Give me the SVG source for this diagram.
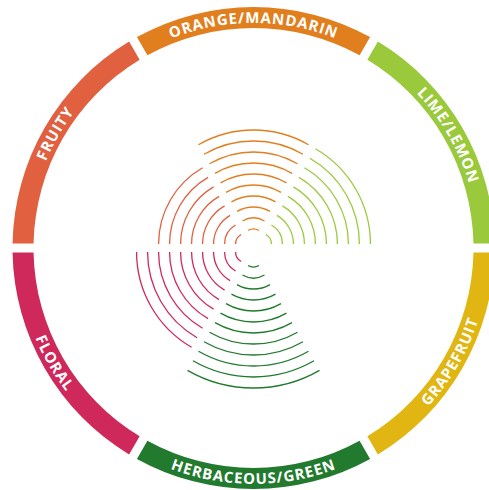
<svg xmlns="http://www.w3.org/2000/svg" xmlns:xlink="http://www.w3.org/1999/xlink" width="489" height="490" viewBox="0 0 489 490">
<style>
.lbl{font-family:"Open Sans","Liberation Sans",sans-serif;font-weight:700;font-size:15px;letter-spacing:0.9px;fill:#fff;text-anchor:middle}
.arcs{fill:none;stroke-width:1.3}
</style>
<defs>
<path id="seg" d="M494.458,252.5 A241,241 0 0 1 377.88,454.43 L367.37,436.24 A220,220 0 0 0 473.454,252.5 Z"/>
<path id="top" d="M28.5,248 A225,225 0 0 1 478.5,248"/>
<path id="bot" d="M17.5,248 A236,236 0 0 0 489.5,248"/>
<path id="arcs8" d="M11,0A11,11 0 0 1 5.5,9.526M22,0A22,22 0 0 1 11,19.053M33,0A33,33 0 0 1 16.5,28.579M44,0A44,44 0 0 1 22,38.105M55,0A55,55 0 0 1 27.5,47.631M66,0A66,66 0 0 1 33,57.158M77,0A77,77 0 0 1 38.5,66.684M88,0A88,88 0 0 1 44,76.21"/>
<path id="arcs10" d="M11,0A11,11 0 0 1 5.5,9.526M22,0A22,22 0 0 1 11,19.053M33,0A33,33 0 0 1 16.5,28.579M44,0A44,44 0 0 1 22,38.105M55,0A55,55 0 0 1 27.5,47.631M66,0A66,66 0 0 1 33,57.158M77,0A77,77 0 0 1 38.5,66.684M88,0A88,88 0 0 1 44,76.21M99,0A99,99 0 0 1 49.5,85.737M110,0A110,110 0 0 1 55,95.263"/>
<path id="arcs12" d="M11,0A11,11 0 0 1 5.5,9.526M22,0A22,22 0 0 1 11,19.053M33,0A33,33 0 0 1 16.5,28.579M44,0A44,44 0 0 1 22,38.105M55,0A55,55 0 0 1 27.5,47.631M66,0A66,66 0 0 1 33,57.158M77,0A77,77 0 0 1 38.5,66.684M88,0A88,88 0 0 1 44,76.21M99,0A99,99 0 0 1 49.5,85.737M110,0A110,110 0 0 1 55,95.263M121,0A121,121 0 0 1 60.5,104.789M132,0A132,132 0 0 1 66,114.315"/>
</defs>
<rect width="489" height="490" fill="#fff"/>

<g id="grapefruit">
<use href="#seg" fill="#E1B612"/>
<text class="lbl"><textPath href="#bot" startOffset="83.333%">GRAPEFRUIT</textPath></text>
</g>

<g id="herbaceous-green">
<use href="#seg" fill="#217A2E" transform="rotate(60 253.5 248)"/>
<use href="#arcs12" class="arcs" stroke="#217A2E" transform="translate(253.5 256) rotate(60)"/>
<text class="lbl"><textPath href="#bot" startOffset="50%">HERBACEOUS/GREEN</textPath></text>
</g>

<g id="floral">
<use href="#seg" fill="#CF285A" transform="rotate(120 253.5 248)"/>
<use href="#arcs10" class="arcs" stroke="#CF285A" transform="translate(246.572 252) rotate(120)"/>
<text class="lbl"><textPath href="#bot" startOffset="16.667%">FLORAL</textPath></text>
</g>

<g id="fruity">
<use href="#seg" fill="#E0603F" transform="rotate(180 253.5 248)"/>
<use href="#arcs8" class="arcs" stroke="#E0603F" transform="translate(246.572 244) rotate(180)"/>
<text class="lbl"><textPath href="#top" startOffset="16.667%">FRUITY</textPath></text>
</g>

<g id="orange-mandarin">
<use href="#seg" fill="#E17F1E" transform="rotate(240 253.5 248)"/>
<use href="#arcs10" class="arcs" stroke="#E17F1E" transform="translate(253.5 240) rotate(240)"/>
<text class="lbl"><textPath href="#top" startOffset="50%">ORANGE/MANDARIN</textPath></text>
</g>

<g id="lime-lemon">
<use href="#seg" fill="#9BC93C" transform="rotate(300 253.5 248)"/>
<use href="#arcs10" class="arcs" stroke="#9BC93C" transform="translate(260.428 244) rotate(300)"/>
<text class="lbl"><textPath href="#top" startOffset="83.333%">LIME/LEMON</textPath></text>
</g>
</svg>
